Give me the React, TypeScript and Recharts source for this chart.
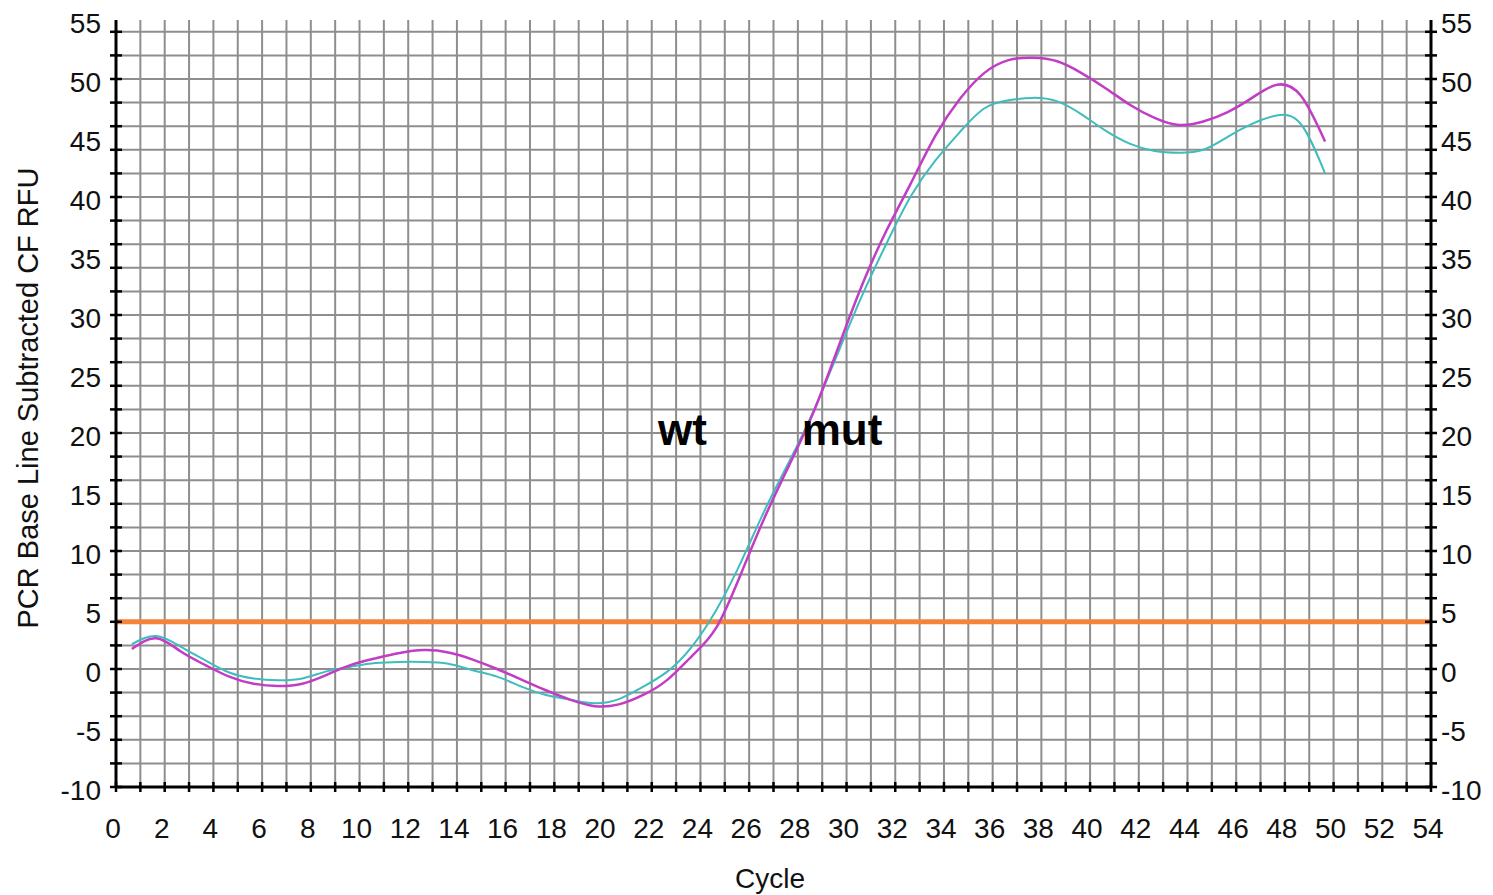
import { LineChart, Line, XAxis, YAxis, CartesianGrid, ReferenceLine, ReferenceDot, Label } from "recharts";

// PCR amplification traces
const CYCLES = [
  1, 2, 3, 4, 5, 6, 7, 8, 9, 10, 11, 12, 13, 14, 15, 16, 17, 18, 19, 20, 21, 22, 23, 24, 25,
  26, 27, 28, 29, 30, 31, 32, 33, 34, 35, 36, 37, 38, 39, 40, 41, 42, 43, 44, 45, 46, 47, 48, 49, 50,
];
const MUT_RFU = [
  1.7, 2.6, 1.5, 0.35, -0.65, -1.25, -1.45, -1.25, -0.5, 0.35, 0.9, 1.35, 1.6, 1.4, 0.8, 0.0, -0.9,
  -1.8, -2.6, -3.15, -3.0, -2.2, -0.9, 1.1, 3.5, 8.0, 12.9, 17.3, 21.8, 27.2, 32.6, 37.2, 41.2, 45.2,
  48.3, 50.5, 51.6, 51.8, 51.5, 50.5, 49.2, 47.8, 46.7, 46.1, 46.4, 47.2, 48.4, 49.5, 48.6, 44.7,
];
const WT_RFU = [
  2.1, 2.8, 1.9, 0.75, -0.3, -0.8, -0.95, -0.8, -0.2, 0.2, 0.5, 0.6, 0.6, 0.45, -0.1, -0.65, -1.5,
  -2.2, -2.6, -2.9, -2.55, -1.5, -0.2, 1.9, 5.0, 9.0, 13.5, 17.6, 21.9, 26.8, 31.7, 36.1, 40.1, 43.1,
  45.5, 47.5, 48.2, 48.4, 48.1, 47.0, 45.6, 44.5, 43.9, 43.75, 44.0, 45.1, 46.2, 46.9, 46.2, 42.0,
];
const THRESHOLD = 4;

const X_TICKS = [
  0, 1, 2, 3, 4, 5, 6, 7, 8, 9, 10, 11, 12, 13, 14, 15, 16, 17, 18, 19, 20, 21, 22, 23, 24, 25, 26, 27,
  28, 29, 30, 31, 32, 33, 34, 35, 36, 37, 38, 39, 40, 41, 42, 43, 44, 45, 46, 47, 48, 49, 50, 51, 52, 53, 54,
];
const X_LABELS = [0, 2, 4, 6, 8, 10, 12, 14, 16, 18, 20, 22, 24, 26, 28, 30, 32, 34, 36, 38, 40, 42, 44, 46, 48, 50, 52, 54];
const Y_LABELS = [-10, -5, 0, 5, 10, 15, 20, 25, 30, 35, 40, 45, 50, 55];
const Y_GRID = [-10, -8, -6, -4, -2, 0, 2, 4, 6, 8, 10, 12, 14, 16, 18, 20, 22, 24, 26, 28, 30, 32, 34, 36, 38, 40, 42, 44, 46, 48, 50, 52, 54];
const Y_TICKS = [...new Set([...Y_GRID, ...Y_LABELS])].sort((a, b) => a - b);

const ANNOTATIONS = [
  { text: "wt", cycle: 22.26, rfu: 19 },
  { text: "mut", cycle: 28.16, rfu: 19 },
];

// the instrument draws its traces about a third of a cycle left of the tick
const TRACE_SHIFT = 0.35;

const data = CYCLES.map((c, i) => ({ x: c - TRACE_SHIFT, mut: MUT_RFU[i], wt: WT_RFU[i] }));

const FONT = '"Liberation Sans", Arial, sans-serif';
const GRID = "#8e8e8e";

function XTick({ x, y, payload }: any) {
  const v = payload.value;
  return (
    <g>
      <line x1={x} x2={x} y1={y - 5} y2={y + 5} stroke="#000" strokeWidth={2.5} />
      {X_LABELS.includes(v) && (
        <text x={x - 3} y={y + 41} textAnchor="middle" dominantBaseline="central" fontSize={28} fill="#111" fontFamily={FONT}>
          {v}
        </text>
      )}
    </g>
  );
}

function makeYTick(side: "left" | "right") {
  return ({ x, y, payload }: any) => {
    const v = payload.value;
    return (
      <g>
        {Y_GRID.includes(v) && <line x1={x - 6} x2={x + 6} y1={y} y2={y} stroke="#000" strokeWidth={2.5} />}
        {Y_LABELS.includes(v) && (
          <text
            x={side === "left" ? x - 15 : x + 10}
            y={y + 3}
            textAnchor={side === "left" ? "end" : "start"}
            dominantBaseline="central"
            fontSize={28}
            fill="#111"
            fontFamily={FONT}
          >
            {v}
          </text>
        )}
      </g>
    );
  };
}

export default function App() {
  return (
    <div style={{ position: "absolute", left: 0, top: 0, width: 1493, height: 895, background: "#fff" }}>
      <LineChart width={1493} height={895} data={data} margin={{ top: 20, right: 0, bottom: 0, left: 0 }}>
        <CartesianGrid
          yAxisId="left"
          stroke={GRID}
          strokeWidth={2}
          horizontalValues={Y_GRID}
          verticalValues={X_TICKS}
        />
        <XAxis
          dataKey="x"
          type="number"
          domain={[0, 54]}
          ticks={X_TICKS}
          interval={0}
          height={108}
          tickSize={0}
          tickMargin={0}
          tickLine={false}
          axisLine={{ stroke: "#000", strokeWidth: 3 }}
          tick={XTick}
          allowDataOverflow
        >
          <Label
            content={() => (
              <text x={770} y={878} textAnchor="middle" dominantBaseline="central" fontSize={28} fill="#111" fontFamily={FONT}>
                Cycle
              </text>
            )}
          />
        </XAxis>
        <YAxis
          yAxisId="left"
          type="number"
          domain={[-10, 55]}
          ticks={Y_TICKS}
          interval={0}
          width={116}
          tickSize={0}
          tickMargin={0}
          tickLine={false}
          axisLine={{ stroke: "#000", strokeWidth: 3 }}
          tick={makeYTick("left")}
          allowDataOverflow
        >
          <Label
            content={() => (
              <text
                x={28}
                y={398}
                transform="rotate(-90 28 398)"
                textAnchor="middle"
                dominantBaseline="central"
                fontSize={29}
                fill="#111"
                fontFamily={FONT}
              >
                PCR Base Line Subtracted CF RFU
              </text>
            )}
          />
        </YAxis>
        <YAxis
          yAxisId="right"
          orientation="right"
          type="number"
          domain={[-10, 55]}
          ticks={Y_TICKS}
          interval={0}
          width={62}
          tickSize={0}
          tickMargin={0}
          tickLine={false}
          axisLine={{ stroke: "#000", strokeWidth: 3 }}
          tick={makeYTick("right")}
          allowDataOverflow
        />
        <ReferenceLine yAxisId="left" y={THRESHOLD} stroke="#f4843c" strokeWidth={5} />
        <Line
          yAxisId="left"
          type="natural"
          dataKey="wt"
          stroke="#3fbcbc"
          strokeWidth={2}
          dot={false}
          isAnimationActive={false}
        />
        <Line
          yAxisId="left"
          type="natural"
          dataKey="mut"
          stroke="#c23cc6"
          strokeWidth={2.5}
          dot={false}
          isAnimationActive={false}
        />
        {ANNOTATIONS.map((a) => (
          <ReferenceDot
            key={a.text}
            yAxisId="left"
            x={a.cycle}
            y={a.rfu}
            r={0}
            shape={(p: any) => (
              <text x={p.cx} y={p.cy} textAnchor="start" fontSize={44} fontWeight="bold" fill="#000" fontFamily={FONT}>
                {a.text}
              </text>
            )}
          />
        ))}
      </LineChart>
    </div>
  );
}
